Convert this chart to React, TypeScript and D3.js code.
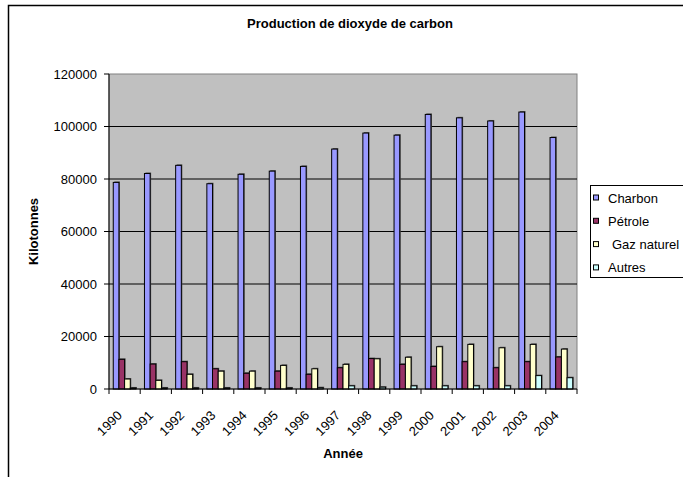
import React from 'react';
import * as d3 from 'd3';

// data
const years = ['1990', '1991', '1992', '1993', '1994', '1995', '1996', '1997', '1998', '1999', '2000', '2001', '2002', '2003', '2004'];
const seriesNames = ['Charbon', 'Pétrole', 'Gaz naturel', 'Autres'];
const charbon = [78700, 82100, 85200, 78200, 81800, 83000, 84800, 91400, 97500, 96700, 104600, 103300, 102100, 105500, 95800];
const petrole = [11300, 9500, 10400, 7700, 6000, 6800, 5600, 8100, 11600, 9400, 8600, 10400, 8100, 10400, 12200];
const gazNaturel = [3800, 3300, 5600, 6800, 6800, 9000, 7700, 9400, 11500, 12100, 16100, 17000, 15700, 17000, 15200];
const autres = [400, 400, 400, 400, 400, 400, 500, 1200, 700, 1200, 1200, 1200, 1200, 5100, 4300];
const yTicks = [0, 20000, 40000, 60000, 80000, 100000, 120000];
const colors = ['#9999FF', '#993366', '#FFFFCC', '#CCFFFF'];

const W = 683;
const H = 477;
const plot = { left: 109, right: 577, top: 74, bottom: 389 };

export default function App() {
  const values = [charbon, petrole, gazNaturel, autres];

  const x = d3.scaleBand().domain(years).range([plot.left, plot.right]).padding(0);
  // four bars per year, gap of 1.5 bar widths between groups
  const inner = d3.scaleBand()
    .domain(seriesNames)
    .range([0, x.bandwidth()])
    .paddingInner(0)
    .paddingOuter(0.75);
  const y = d3.scaleLinear().domain([0, 120000]).range([plot.bottom, plot.top]);

  const font = '"Liberation Sans", Arial, sans-serif';

  return (
    <svg width={W} height={H} style={{ position: 'absolute', left: 0, top: 0 }} fontFamily={font}>
      <rect x={0} y={0} width={W} height={H} fill="#fff" />
      {/* chart frame, runs off to the right and bottom */}
      <path d={`M8.5,${H} V5.5 H${W}`} fill="none" stroke="#000" strokeWidth={1.5} />

      <text x={350} y={28} textAnchor="middle" fontSize={13} fontWeight="bold">
        Production de dioxyde de carbon
      </text>

      {/* plot area */}
      <rect x={plot.left} y={plot.top} width={plot.right - plot.left} height={plot.bottom - plot.top} fill="#C0C0C0" stroke="#808080" strokeWidth={1} />

      {yTicks.filter(t => t > 0 && t < 120000).map(t => (
        <line key={'g' + t} x1={plot.left} x2={plot.right} y1={y(t)} y2={y(t)} stroke="#000" strokeWidth={1} />
      ))}

      {/* bars */}
      {years.map((yr, i) => (
        <g key={yr}>
          {seriesNames.map((s, k) => {
            const v = values[k][i];
            const bx = (x(yr) as number) + (inner(s) as number);
            const bw = inner.bandwidth();
            return (
              <g key={s}>
                <rect x={bx + 1} y={y(v) - 1} width={bw} height={plot.bottom - y(v) + 1} fill="#505050" />
                <rect x={bx} y={y(v)} width={bw} height={plot.bottom - y(v)} fill={colors[k]} stroke="#000" strokeWidth={1} />
              </g>
            );
          })}
        </g>
      ))}

      {/* y axis */}
      <line x1={plot.left} x2={plot.left} y1={plot.top} y2={plot.bottom} stroke="#000" strokeWidth={1} />
      {yTicks.map(t => (
        <g key={'y' + t}>
          <line x1={plot.left - 5} x2={plot.left} y1={y(t)} y2={y(t)} stroke="#000" />
          <text x={97} y={y(t)} dy="0.35em" textAnchor="end" fontSize={13}>{t}</text>
        </g>
      ))}

      {/* x axis */}
      <line x1={plot.left} x2={plot.right} y1={plot.bottom} y2={plot.bottom} stroke="#000" strokeWidth={1} />
      {years.map(yr => (
        <line key={'xt' + yr} x1={(x(yr) as number)} x2={(x(yr) as number)} y1={plot.bottom} y2={plot.bottom + 5} stroke="#000" />
      ))}
      <line x1={plot.right} x2={plot.right} y1={plot.bottom} y2={plot.bottom + 5} stroke="#000" />
      {years.map(yr => {
        const cx = (x(yr) as number) + x.bandwidth() / 2 - 5;
        const cy = plot.bottom + 24;
        return (
          <text key={'xl' + yr} x={cx} y={cy} dy="0.35em" textAnchor="end" fontSize={13}
            transform={`rotate(-45,${cx},${cy})`}>{yr}</text>
        );
      })}

      <text x={(plot.left + plot.right) / 2} y={458} textAnchor="middle" fontSize={13} fontWeight="bold">Année</text>
      <text transform={`translate(38,${(plot.top + plot.bottom) / 2}) rotate(-90)`} textAnchor="middle" fontSize={13} fontWeight="bold">Kilotonnes</text>

      {/* legend */}
      <rect x={590.5} y={185.5} width={93} height={92} fill="#fff" stroke="#000" strokeWidth={1} />
      {seriesNames.map((s, k) => {
        const ly = 198 + k * 23.3;
        return (
          <g key={'lg' + s}>
            <rect x={593.5} y={ly - 3} width={5} height={5} fill={colors[k]} stroke="#000" strokeWidth={1} />
            <text x={k === 2 ? 612 : 608} y={ly} dy="0.35em" fontSize={13}>{s}</text>
          </g>
        );
      })}
    </svg>
  );
}
